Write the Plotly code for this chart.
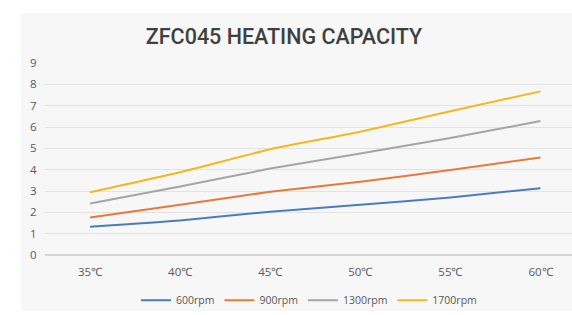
import plotly.graph_objects as go

categories = ["35℃", "40℃", "45℃", "50℃", "55℃", "60℃"]
series_names = ["600rpm", "900rpm", "1300rpm", "1700rpm"]
rpm600 = [1.33, 1.62, 2.03, 2.35, 2.70, 3.13]
rpm900 = [1.76, 2.36, 2.96, 3.43, 3.98, 4.57]
rpm1300 = [2.41, 3.21, 4.05, 4.76, 5.48, 6.28]
rpm1700 = [2.94, 3.88, 4.96, 5.78, 6.74, 7.67]
y_ticks = list(range(0, 10))
colors = ["#4A7EBB", "#E8793A", "#A5A5A5", "#F5B81C"]

fig = go.Figure()
for name, vals, col in zip(series_names, [rpm600, rpm900, rpm1300, rpm1700], colors):
    fig.add_trace(go.Scatter(x=categories, y=vals, name=name, mode="lines",
                             line=dict(color=col, width=2, shape="spline", smoothing=0.5)))

W, H = 572, 315
ml, mr, mt, mb = 45, 0, 63, 57
pw, ph = W - ml - mr, H - mt - mb
plot_bottom = H - mb
# background card region in page pixels: x 21..572, y 12..315
x0 = (21 - ml) / pw
y1 = (plot_bottom - 12) / ph
fig.add_shape(type="rect", xref="paper", yref="paper", x0=x0, x1=1.0, y0=-mb / ph, y1=y1,
              fillcolor="#F7F7F7", line=dict(width=0), layer="below")

fig.update_layout(
    width=W, height=H,
    margin=dict(l=ml, r=mr, t=mt, b=mb),
    paper_bgcolor="white", plot_bgcolor="rgba(0,0,0,0)",
    title=dict(text="ZFC045 HEATING CAPACITY", x=284 / W, xref="container", xanchor="center",
               y=1 - 36 / H, yanchor="middle",
               font=dict(family="Roboto", size=21.5, color="#404040", weight=500)),
    font=dict(family="Open Sans", size=11.5, color="#595959"),
    xaxis=dict(range=[-0.5, 5.35], showgrid=False, zeroline=False, showline=False,
               ticks="outside", ticklen=6, tickcolor="rgba(0,0,0,0)",
               tickfont=dict(size=11.5, color="#595959")),
    yaxis=dict(range=[0, 9], tickvals=y_ticks, showgrid=True, gridcolor="#E2E2E2", gridwidth=1.3,
               zeroline=True, zerolinecolor="#D4D4D4", zerolinewidth=1.5, showline=False,
               ticks="outside", ticklen=5, tickcolor="rgba(0,0,0,0)",
               tickfont=dict(size=11.5, color="#595959")),
    legend=dict(orientation="h", x=(309 - ml) / pw, xanchor="center",
                y=(plot_bottom - 304) / ph, yanchor="middle",
                font=dict(size=10.5, color="#595959"), bgcolor="rgba(0,0,0,0)"),
    showlegend=True,
)

fig.write_html("out.html", config={"displayModeBar": False},
               post_script="document.body.style.margin='0px';document.body.style.overflow='hidden';")
